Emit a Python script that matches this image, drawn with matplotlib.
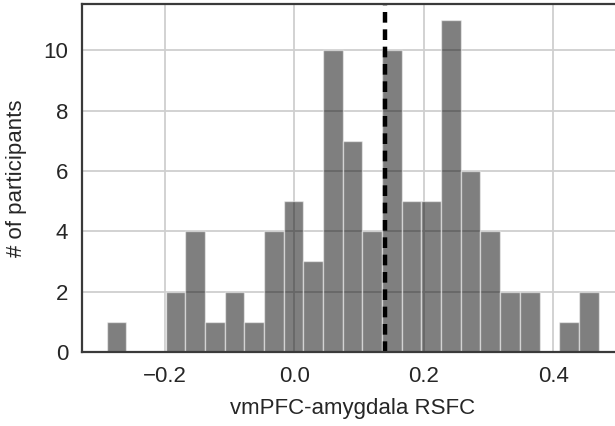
import numpy as np
import matplotlib
matplotlib.use("Agg")
import matplotlib.pyplot as plt

# Histogram of vmPFC-amygdala resting-state functional connectivity
counts = [1, 0, 0, 2, 4, 1, 2, 1, 4, 5, 3, 10, 7, 4, 10, 5, 5, 11, 6, 4, 2, 2, 0, 1, 2]
rsfc_min = -0.290
rsfc_max = 0.470
group_mean = 0.14
x_ticks = [-0.2, 0.0, 0.2, 0.4]
x_tick_labels = ["\u22120.2", "0.0", "0.2", "0.4"]
y_ticks = [0, 2, 4, 6, 8, 10]

edges = np.linspace(rsfc_min, rsfc_max, len(counts) + 1)
widths = np.diff(edges)

plt.rcParams["font.family"] = ["Liberation Sans", "DejaVu Sans"]

fig = plt.figure(figsize=(6.15, 4.26), dpi=100)
ax = fig.add_axes([0.1333, 0.1737, 0.88, 0.818])

ax.set_axisbelow(True)
ax.grid(True, color="#cfcfcf", linewidth=1.3)

ax.bar(edges[:-1], counts, width=widths, align="edge", color="black",
       alpha=0.5, edgecolor="white", linewidth=1.0)

ax.axvline(group_mean, color="black", linewidth=3.2, dashes=(2.4, 1.5))

ax.set_xlim(-0.328, 0.508)
ax.set_ylim(0, 11.55)
ax.set_xticks(x_ticks)
ax.set_xticklabels(x_tick_labels)
ax.set_yticks(y_ticks)
ax.tick_params(axis="both", length=0, labelsize=16, colors="#262626", pad=10)

for side in ["left", "bottom", "top", "right"]:
    ax.spines[side].set_color("#3a3a3a")
    ax.spines[side].set_linewidth(1.6)

ax.set_xlabel("vmPFC-amygdala RSFC", fontsize=16, color="#262626", labelpad=8)
ax.set_ylabel("# of participants", fontsize=16, color="#262626", labelpad=12)

fig.savefig("out.png", dpi=100)
